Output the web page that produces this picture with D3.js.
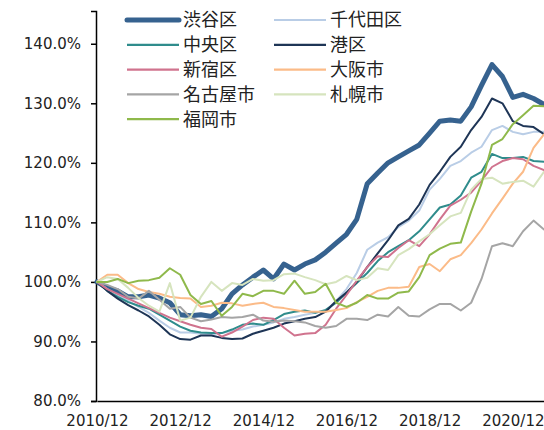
<!DOCTYPE html>
<html>
<head>
<meta charset="utf-8">
<script src="https://cdn.jsdelivr.net/npm/d3@7"></script>
<style>
  body { margin: 0; background: #fff; }
  svg { display: block; }
</style>
</head>
<body>
<div id="chart"></div>
<script>
// quarterly index values (2010/12 = 100%)
var months = ["2010/12",
  "2011/03","2011/06","2011/09","2011/12",
  "2012/03","2012/06","2012/09","2012/12",
  "2013/03","2013/06","2013/09","2013/12",
  "2014/03","2014/06","2014/09","2014/12",
  "2015/03","2015/06","2015/09","2015/12",
  "2016/03","2016/06","2016/09","2016/12",
  "2017/03","2017/06","2017/09","2017/12",
  "2018/03","2018/06","2018/09","2018/12",
  "2019/03","2019/06","2019/09","2019/12",
  "2020/03","2020/06","2020/09","2020/12",
  "2021/03","2021/06","2021/09"];

var xTickLabels = ["2010/12", "2012/12", "2014/12", "2016/12", "2018/12", "2020/12"];
var yTicks = [80, 90, 100, 110, 120, 130, 140];

var shibuya  = [100, 99, 98.5, 97.5, 97.5, 97.8, 97.3, 96.5, 94.5, 94.3, 94.5, 94.2, 95.5, 98, 99.5, 100.8, 102, 100.5, 103, 102, 103, 103.7, 105, 106.5, 108, 110.5, 116.5, 118.3, 120, 121, 122, 123, 125, 127, 127.2, 127, 129.4, 133, 136.5, 134.5, 131, 131.5, 130.8, 129.8];
var chiyoda  = [100, 98.8, 97.8, 96.8, 95.8, 94.8, 93.5, 92.3, 91.5, 91.5, 91.3, 91.2, 91.4, 91.8, 92, 92.5, 92.8, 93.2, 93.8, 94.1, 94.5, 94.8, 95.2, 96.8, 98.8, 101.5, 105.4, 106.6, 107.5, 109.2, 110.3, 112, 115.5, 117.3, 119.5, 120.3, 121.7, 122.7, 125.5, 126.2, 125.2, 124.8, 125.2, 125.2];
var chuo     = [100, 98.5, 97.5, 96.6, 96, 95.5, 94.5, 93.5, 92.5, 91.8, 91.5, 91.4, 91.4, 92, 92.8, 93, 92.8, 93.6, 94.6, 95, 95.2, 94.8, 95.3, 96.5, 98.2, 99.8, 101.5, 103.5, 105, 106, 107, 108.5, 110.5, 112.5, 113, 114.5, 117.5, 118.5, 121.5, 120.8, 120.8, 121, 120.3, 120.2];
var minato   = [100, 98.5, 97.2, 96.1, 95.2, 94.2, 92.8, 91.2, 90.4, 90.3, 91, 91, 90.6, 90.4, 90.5, 91.3, 91.8, 92.3, 93, 93.4, 93.8, 94.1, 95, 96.8, 98.2, 100, 102.5, 104.8, 107, 109.5, 110.6, 113, 116.3, 118.5, 121, 122.7, 125.5, 127.7, 130.8, 130, 127, 126.2, 126, 124.8];
var shinjuku = [100, 98.8, 98, 97.2, 96.4, 95.6, 94.8, 94, 93.4, 92.8, 92.3, 92.1, 90.8, 91.5, 92.5, 93.6, 94, 93.8, 92.3, 91, 91.3, 91.4, 92.8, 95.5, 97.8, 100.2, 102.5, 104.3, 104.2, 105.7, 107, 106, 108, 110.5, 112.8, 113.8, 115, 117, 119.3, 120.3, 120.8, 120.6, 119.5, 118.8];
var osaka    = [100, 101.2, 101.2, 99.8, 98.8, 98.3, 98, 97.5, 97.3, 97.2, 95.8, 96, 96.5, 96.4, 96, 96.3, 96.5, 95.8, 95.6, 95.3, 95, 95, 95, 95.3, 95.6, 96.6, 97.5, 98.5, 99, 99, 99.2, 102.5, 103, 101.8, 103.8, 104.5, 106.5, 108.8, 111.5, 114, 116.5, 118.5, 122.5, 124.8];
var nagoya   = [100, 99.5, 98.8, 97.5, 97.2, 98.5, 97, 95.5, 95.8, 94, 93.4, 93.7, 94.1, 94, 94.1, 94.5, 93.5, 93.3, 93.5, 93.4, 93.2, 92.6, 92.3, 92.6, 93.8, 93.8, 93.6, 94.5, 94.2, 95.8, 94.3, 94.2, 95.4, 96.3, 96.3, 95.2, 96.5, 100.5, 106, 106.5, 106, 108.5, 110.3, 108.8];
var sapporo  = [100, 100.8, 100.5, 99, 97.3, 96, 95, 99.8, 93.5, 94, 97.5, 100, 98.5, 99.8, 99.5, 100.5, 100.2, 100.3, 101.3, 101.4, 100.8, 100.3, 99.6, 100, 101, 100.3, 100.7, 102.3, 102, 104.5, 105.5, 106.8, 108, 109.5, 111, 111.6, 115.5, 117.3, 117.5, 116.5, 116.8, 117, 116, 118.5];
var fukuoka  = [100, 100, 100.5, 99.8, 100.2, 100.3, 100.7, 102.3, 101.2, 97.8, 96.3, 96.8, 94.3, 95.8, 98, 97.6, 98.5, 98.5, 98, 100.2, 98, 98.3, 99.7, 96.5, 95.8, 96.5, 97.8, 97.2, 97.2, 98.2, 98.4, 100.8, 104.5, 105.6, 106.4, 106.6, 111.8, 116.5, 123, 124, 126.5, 128, 129.6, 129.5];

var seriesNames = ["渋谷区", "千代田区", "中央区", "港区", "新宿区", "大阪市", "名古屋市", "札幌市", "福岡市"];
var seriesValues = [shibuya, chiyoda, chuo, minato, shinjuku, osaka, nagoya, sapporo, fukuoka];
var seriesColors = ["#36628f", "#b9cde6", "#2f8c8c", "#1e3556", "#d0738e", "#fbbb88", "#a5a5a5", "#d6e4be", "#8fb94b"];
var seriesWidths = [5, 2, 2, 2, 2, 2, 2, 2, 2];

var width = 544, height = 430;
var parseMonth = d3.timeParse("%Y/%m");

var svg = d3.select("#chart").append("svg")
  .attr("width", width)
  .attr("height", height);

var x = d3.scaleTime()
  .domain([parseMonth("2010/12"), parseMonth("2021/09")])
  .range([97, 544]);

var y = d3.scaleLinear()
  .domain([80, 145.5])
  .range([401, 11]);

// y axis
var yAxis = d3.axisLeft(y)
  .tickValues(yTicks)
  .tickSize(5)
  .tickFormat(function(d) { return d.toFixed(1) + "%"; });

var yg = svg.append("g")
  .attr("transform", "translate(96,0)")
  .call(yAxis);
yg.select(".domain").attr("stroke", "#000").attr("stroke-width", 1.5);
yg.selectAll(".tick line").attr("stroke", "#000").attr("stroke-width", 1.5);
yg.selectAll(".tick text")
  .attr("x", -15)
  .attr("fill", "#222")
  .style("font-family", "'DejaVu Sans', Verdana, sans-serif")
  .style("font-size", "15px");

// x axis
var xAxis = d3.axisBottom(x)
  .tickValues(xTickLabels.map(parseMonth))
  .tickSize(0)
  .tickSizeOuter(0)
  .tickFormat(d3.timeFormat("%Y/%m"));

var xg = svg.append("g")
  .attr("transform", "translate(0,401)")
  .call(xAxis);
xg.select(".domain").attr("stroke", "#000").attr("stroke-width", 1.5);
xg.selectAll(".tick text")
  .attr("y", 14)
  .attr("fill", "#222")
  .style("font-family", "'DejaVu Sans', Verdana, sans-serif")
  .style("font-size", "15px");

// lines
var line = d3.line()
  .x(function(d, i) { return x(parseMonth(months[i])); })
  .y(function(d) { return y(d); });

seriesValues.forEach(function(vals, k) {
  svg.append("path")
    .datum(vals)
    .attr("fill", "none")
    .attr("stroke", seriesColors[k])
    .attr("stroke-width", seriesWidths[k])
    .attr("stroke-linejoin", "round")
    .attr("stroke-linecap", "round")
    .attr("d", line);
});

// legend
var legend = svg.append("g");
seriesNames.forEach(function(name, k) {
  var col = k % 2, row = Math.floor(k / 2);
  var lx = col === 0 ? 127 : 274;
  var ly = 20 + row * 24.8;
  legend.append("line")
    .attr("x1", lx).attr("x2", lx + 52)
    .attr("y1", ly).attr("y2", ly)
    .attr("stroke", seriesColors[k])
    .attr("stroke-width", k === 0 ? 5 : 2.2)
    .attr("stroke-linecap", k === 0 ? "round" : "butt");
  legend.append("text")
    .attr("x", lx + 56)
    .attr("y", ly)
    .attr("dy", "0.36em")
    .attr("fill", "#222")
    .style("font-family", "'Noto Sans CJK JP', sans-serif")
    .style("font-size", "18px")
    .text(name);
});
</script>
</body>
</html>
